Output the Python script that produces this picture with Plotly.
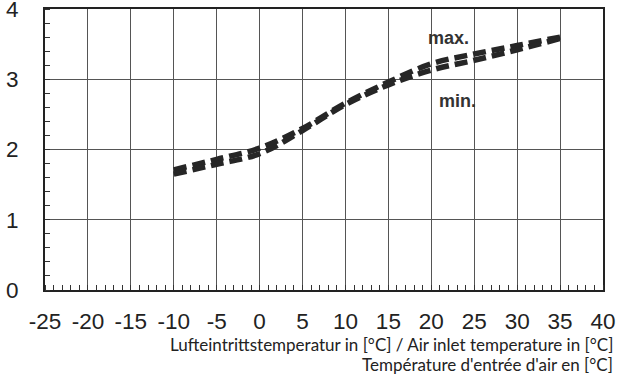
import plotly.graph_objects as go

temps = [-10, -5, 0, 5, 10, 15, 20, 25, 30, 35]
cop_max = [1.71, 1.86, 2.02, 2.30, 2.66, 2.96, 3.22, 3.36, 3.48, 3.60]
cop_min = [1.65, 1.79, 1.94, 2.27, 2.64, 2.92, 3.13, 3.27, 3.42, 3.58]
x_ticks = list(range(-25, 41, 5))
x_labels = [str(v) for v in x_ticks]
y_ticks = [0, 1, 2, 3, 4]
title_lines = ["Lufteintrittstemperatur in [°C] / Air inlet temperature in [°C]",
               "Température d'entrée d'air en [°C]"]

fig = go.Figure()
for ys in (cop_max, cop_min):
    fig.add_trace(go.Scatter(x=temps, y=ys, mode="lines", line_shape="spline",
                             line=dict(color="#262626", width=5.5, dash="13px,6px"),
                             showlegend=False, hoverinfo="skip"))

fig.add_annotation(x=22.0, y=3.59, text="<b>max.</b>", showarrow=False,
                   font=dict(family="Liberation Sans", size=18, color="#333"))
fig.add_annotation(x=23.1, y=2.69, text="<b>min.</b>", showarrow=False,
                   font=dict(family="Liberation Sans", size=18, color="#333"))

for i, t in enumerate(title_lines):
    fig.add_annotation(xref="paper", yref="paper", x=1.022, y=-0.194 - i * 0.072,
                       xanchor="right", yanchor="middle", text=t, showarrow=False,
                       font=dict(family="Lato", size=17, color="#222"))

axis_common = dict(showgrid=True, gridcolor="#555", gridwidth=1, zeroline=False,
                   showline=True, linecolor="#222", linewidth=2, mirror=True,
                   ticks="", automargin=False, ticklabeloverflow="allow",
                   tickfont=dict(family="Liberation Sans", size=22.5, color="#222"))

fig.update_xaxes(range=[-25, 40], tickvals=x_ticks, ticktext=x_labels, ticklabelstandoff=10,
                 minor=dict(dtick=1, ticks="inside", ticklen=5, tickcolor="#333", showgrid=False),
                 **axis_common)
fig.update_yaxes(range=[0, 4], tickvals=y_ticks, ticklabelstandoff=20,
                 minor=dict(dtick=0.2, ticks="inside", ticklen=5, tickcolor="#333", showgrid=False),
                 **axis_common)

fig.update_layout(width=617, height=374, margin=dict(l=45, r=14, t=9, b=84),
                  plot_bgcolor="white", paper_bgcolor="white")
fig.write_html("out.html", config={"displayModeBar": False},
               post_script="document.body.style.margin='0';")
